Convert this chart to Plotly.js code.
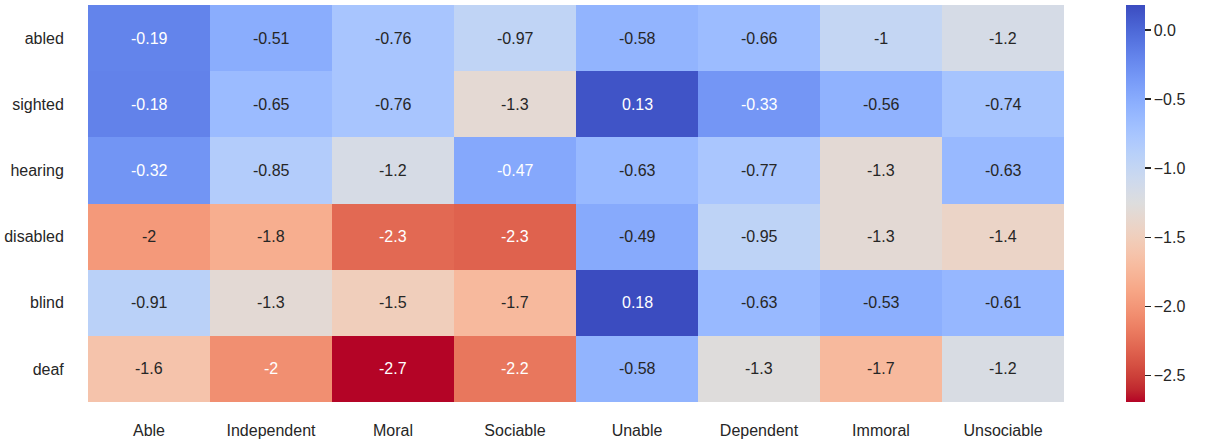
<!DOCTYPE html>
<html>
<head>
<meta charset="utf-8">
<script src="https://cdn.plot.ly/plotly-3.0.1.min.js"></script>
<style>
html,body{margin:0;padding:0;background:#fff;}
#chart{width:1205px;height:441px;}
</style>
</head>
<body>
<div id="chart"></div>
<script>
var columns = ["Able", "Independent", "Moral", "Sociable", "Unable", "Dependent", "Immoral", "Unsociable"];
var rows = ["abled", "sighted", "hearing", "disabled", "blind", "deaf"];

var abled    = [-0.19, -0.51, -0.76, -0.97, -0.58, -0.66, -1.0, -1.17];
var sighted  = [-0.18, -0.65, -0.76, -1.33, 0.13, -0.33, -0.56, -0.74];
var hearing  = [-0.32, -0.85, -1.18, -0.47, -0.63, -0.77, -1.32, -0.63];
var disabled = [-1.98, -1.82, -2.28, -2.32, -0.49, -0.95, -1.32, -1.42];
var blind    = [-0.91, -1.32, -1.5, -1.72, 0.18, -0.63, -0.53, -0.61];
var deaf     = [-1.62, -2.05, -2.69, -2.2, -0.58, -1.27, -1.72, -1.2];

var colorbarTicks = [0.0, -0.5, -1.0, -1.5, -2.0, -2.5];

var z = [abled, sighted, hearing, disabled, blind, deaf];

// matplotlib coolwarm
var cw = [
 [59,76,192],[68,90,204],[77,104,215],[87,117,225],[98,130,234],[108,142,241],[119,154,247],[130,165,251],
 [141,176,254],[152,185,255],[163,194,255],[174,201,253],[184,208,249],[194,213,244],[204,217,238],[213,219,230],
 [221,221,221],[229,216,209],[236,211,197],[241,204,184],[245,196,172],[247,187,159],[247,177,147],[247,166,134],
 [244,154,123],[241,141,111],[236,127,99],[229,112,88],[222,96,77],[213,80,66],[203,62,56],[192,40,47],[180,4,38]
];
// reversed: low values red, high values blue
var cwr = cw.slice().reverse();
var colorscale = cwr.map(function(c, i){ return [i/(cwr.length-1), 'rgb('+c.join(',')+')']; });

var flat = [].concat.apply([], z);
var zmin = Math.min.apply(null, flat), zmax = Math.max.apply(null, flat);

function colorAt(v){
  var t = (v - zmin)/(zmax - zmin);
  t = Math.max(0, Math.min(1, t));
  var f = t*(cwr.length-1);
  var i = Math.min(Math.floor(f), cwr.length-2);
  var r = f - i;
  return [0,1,2].map(function(k){ return cwr[i][k]*(1-r) + cwr[i+1][k]*r; });
}
function lum(c){
  var l = c.map(function(x){ x/=255; return x <= 0.03928 ? x/12.92 : Math.pow((x+0.055)/1.055, 2.4); });
  return 0.2126*l[0] + 0.7152*l[1] + 0.0722*l[2];
}
function fmt(v){ return String(Number(v.toPrecision(2))); }

var annotations = [];
for (var r = 0; r < rows.length; r++){
  for (var c = 0; c < columns.length; c++){
    var v = z[r][c];
    var col = lum(colorAt(v)) > 0.408 ? '#262626' : '#ffffff';
    annotations.push({
      x: columns[c], y: rows[r], xref: 'x', yref: 'y',
      text: fmt(v), showarrow: false,
      font: {family: 'Liberation Sans, Arial, sans-serif', size: 16, color: col}
    });
  }
}

var trace = {
  type: 'heatmap',
  x: columns, y: rows, z: z,
  colorscale: colorscale,
  zmin: zmin, zmax: zmax,
  xgap: 0, ygap: 0,
  hoverinfo: 'none',
  colorbar: {
    x: (1126-88)/976, xanchor: 'left', xpad: 0,
    y: 0.5, yanchor: 'middle', len: 1, lenmode: 'fraction', ypad: 0,
    thickness: 19, outlinewidth: 0,
    tickvals: colorbarTicks, tickformat: '.1f',
    ticks: 'outside', ticklen: 6, tickwidth: 1.5, tickcolor: '#262626',
    tickfont: {family: 'Liberation Sans, Arial, sans-serif', size: 16, color: '#262626'}
  }
};

var layout = {
  width: 1205, height: 441,
  margin: {l: 88, r: 141, t: 5, b: 39},
  paper_bgcolor: '#fff', plot_bgcolor: '#fff',
  font: {family: 'Liberation Sans, Arial, sans-serif', size: 16, color: '#262626'},
  xaxis: {
    type: 'category', showgrid: false, zeroline: false, showline: false,
    ticks: 'outside', ticklen: 14, tickcolor: 'rgba(0,0,0,0)',
    tickfont: {size: 16, color: '#262626'}
  },
  yaxis: {
    type: 'category', autorange: 'reversed', showgrid: false, zeroline: false, showline: false,
    ticks: 'outside', ticklen: 20, tickcolor: 'rgba(0,0,0,0)',
    tickfont: {size: 16, color: '#262626'}
  },
  annotations: annotations
};

Plotly.newPlot('chart', [trace], layout, {displayModeBar: false, staticPlot: true});
</script>
</body>
</html>
